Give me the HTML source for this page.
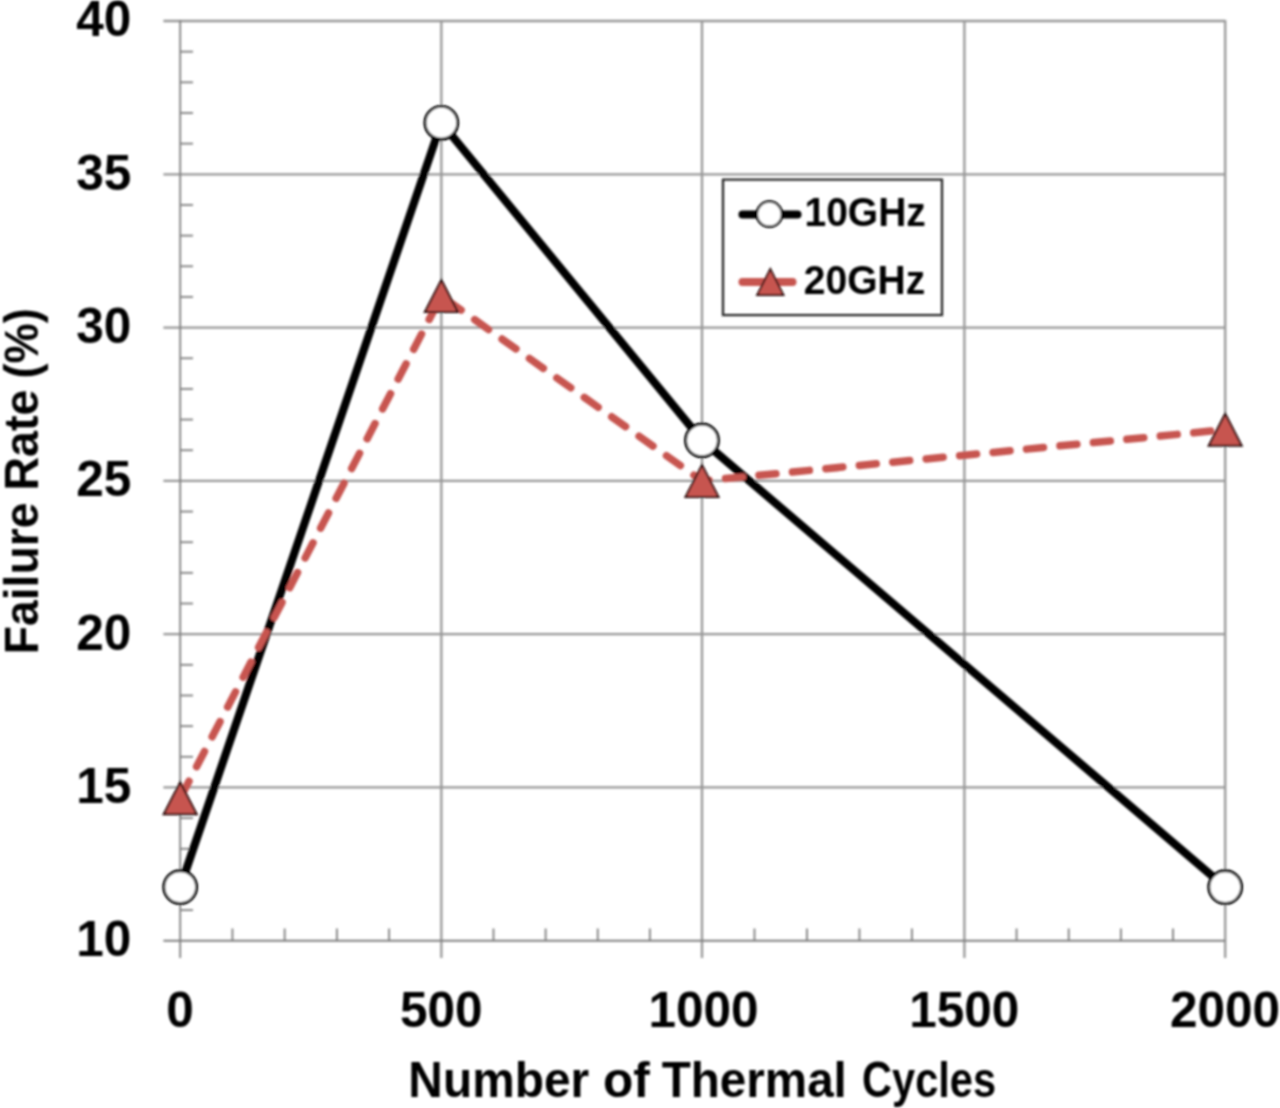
<!DOCTYPE html><html><head><meta charset="utf-8"><style>html,body{margin:0;padding:0;background:#fff;}svg{display:block;}text{font-family:"Liberation Sans",sans-serif;font-weight:bold;fill:#000;}</style></head><body>
<svg width="1280" height="1108" viewBox="0 0 1280 1108">
<defs><filter id="bl" x="0" y="0" width="1280" height="1108" filterUnits="userSpaceOnUse"><feGaussianBlur stdDeviation="0.85"/></filter></defs>
<rect width="1280" height="1108" fill="#fff"/>
<g filter="url(#bl)">
<line x1="163.4" y1="787.46" x2="1225.3" y2="787.46" stroke="#979797" stroke-width="2.3"/>
<line x1="163.4" y1="634.17" x2="1225.3" y2="634.17" stroke="#979797" stroke-width="2.3"/>
<line x1="163.4" y1="480.88" x2="1225.3" y2="480.88" stroke="#979797" stroke-width="2.3"/>
<line x1="163.4" y1="327.59" x2="1225.3" y2="327.59" stroke="#979797" stroke-width="2.3"/>
<line x1="163.4" y1="174.30" x2="1225.3" y2="174.30" stroke="#979797" stroke-width="2.3"/>
<line x1="163.4" y1="21.01" x2="1225.3" y2="21.01" stroke="#979797" stroke-width="2.3"/>
<line x1="441.35" y1="20.01" x2="441.35" y2="958" stroke="#979797" stroke-width="2.3"/>
<line x1="702.00" y1="20.01" x2="702.00" y2="958" stroke="#979797" stroke-width="2.3"/>
<line x1="964.40" y1="20.01" x2="964.40" y2="958" stroke="#979797" stroke-width="2.3"/>
<line x1="1225.20" y1="20.01" x2="1225.20" y2="958" stroke="#979797" stroke-width="2.3"/>
<line x1="180.20" y1="910.09" x2="193" y2="910.09" stroke="#7e7e7e" stroke-width="1.8"/>
<line x1="180.20" y1="879.43" x2="193" y2="879.43" stroke="#7e7e7e" stroke-width="1.8"/>
<line x1="180.20" y1="848.78" x2="193" y2="848.78" stroke="#7e7e7e" stroke-width="1.8"/>
<line x1="180.20" y1="818.12" x2="193" y2="818.12" stroke="#7e7e7e" stroke-width="1.8"/>
<line x1="180.20" y1="756.80" x2="193" y2="756.80" stroke="#7e7e7e" stroke-width="1.8"/>
<line x1="180.20" y1="726.14" x2="193" y2="726.14" stroke="#7e7e7e" stroke-width="1.8"/>
<line x1="180.20" y1="695.49" x2="193" y2="695.49" stroke="#7e7e7e" stroke-width="1.8"/>
<line x1="180.20" y1="664.83" x2="193" y2="664.83" stroke="#7e7e7e" stroke-width="1.8"/>
<line x1="180.20" y1="603.51" x2="193" y2="603.51" stroke="#7e7e7e" stroke-width="1.8"/>
<line x1="180.20" y1="572.85" x2="193" y2="572.85" stroke="#7e7e7e" stroke-width="1.8"/>
<line x1="180.20" y1="542.20" x2="193" y2="542.20" stroke="#7e7e7e" stroke-width="1.8"/>
<line x1="180.20" y1="511.54" x2="193" y2="511.54" stroke="#7e7e7e" stroke-width="1.8"/>
<line x1="180.20" y1="450.22" x2="193" y2="450.22" stroke="#7e7e7e" stroke-width="1.8"/>
<line x1="180.20" y1="419.56" x2="193" y2="419.56" stroke="#7e7e7e" stroke-width="1.8"/>
<line x1="180.20" y1="388.91" x2="193" y2="388.91" stroke="#7e7e7e" stroke-width="1.8"/>
<line x1="180.20" y1="358.25" x2="193" y2="358.25" stroke="#7e7e7e" stroke-width="1.8"/>
<line x1="180.20" y1="296.93" x2="193" y2="296.93" stroke="#7e7e7e" stroke-width="1.8"/>
<line x1="180.20" y1="266.27" x2="193" y2="266.27" stroke="#7e7e7e" stroke-width="1.8"/>
<line x1="180.20" y1="235.62" x2="193" y2="235.62" stroke="#7e7e7e" stroke-width="1.8"/>
<line x1="180.20" y1="204.96" x2="193" y2="204.96" stroke="#7e7e7e" stroke-width="1.8"/>
<line x1="180.20" y1="143.64" x2="193" y2="143.64" stroke="#7e7e7e" stroke-width="1.8"/>
<line x1="180.20" y1="112.98" x2="193" y2="112.98" stroke="#7e7e7e" stroke-width="1.8"/>
<line x1="180.20" y1="82.33" x2="193" y2="82.33" stroke="#7e7e7e" stroke-width="1.8"/>
<line x1="180.20" y1="51.67" x2="193" y2="51.67" stroke="#7e7e7e" stroke-width="1.8"/>
<line x1="232.43" y1="940.75" x2="232.43" y2="928.5" stroke="#7e7e7e" stroke-width="1.8"/>
<line x1="284.66" y1="940.75" x2="284.66" y2="928.5" stroke="#7e7e7e" stroke-width="1.8"/>
<line x1="336.89" y1="940.75" x2="336.89" y2="928.5" stroke="#7e7e7e" stroke-width="1.8"/>
<line x1="389.12" y1="940.75" x2="389.12" y2="928.5" stroke="#7e7e7e" stroke-width="1.8"/>
<line x1="493.48" y1="940.75" x2="493.48" y2="928.5" stroke="#7e7e7e" stroke-width="1.8"/>
<line x1="545.61" y1="940.75" x2="545.61" y2="928.5" stroke="#7e7e7e" stroke-width="1.8"/>
<line x1="597.74" y1="940.75" x2="597.74" y2="928.5" stroke="#7e7e7e" stroke-width="1.8"/>
<line x1="649.87" y1="940.75" x2="649.87" y2="928.5" stroke="#7e7e7e" stroke-width="1.8"/>
<line x1="754.48" y1="940.75" x2="754.48" y2="928.5" stroke="#7e7e7e" stroke-width="1.8"/>
<line x1="806.96" y1="940.75" x2="806.96" y2="928.5" stroke="#7e7e7e" stroke-width="1.8"/>
<line x1="859.44" y1="940.75" x2="859.44" y2="928.5" stroke="#7e7e7e" stroke-width="1.8"/>
<line x1="911.92" y1="940.75" x2="911.92" y2="928.5" stroke="#7e7e7e" stroke-width="1.8"/>
<line x1="1016.56" y1="940.75" x2="1016.56" y2="928.5" stroke="#7e7e7e" stroke-width="1.8"/>
<line x1="1068.72" y1="940.75" x2="1068.72" y2="928.5" stroke="#7e7e7e" stroke-width="1.8"/>
<line x1="1120.88" y1="940.75" x2="1120.88" y2="928.5" stroke="#7e7e7e" stroke-width="1.8"/>
<line x1="1173.04" y1="940.75" x2="1173.04" y2="928.5" stroke="#7e7e7e" stroke-width="1.8"/>
<line x1="163.4" y1="940.75" x2="1225.3" y2="940.75" stroke="#7e7e7e" stroke-width="1.8"/>
<line x1="180.20" y1="20.01" x2="180.20" y2="958" stroke="#7e7e7e" stroke-width="1.8"/>
<polyline points="180.20,887.10 441.35,122.79 702.00,440.41 1225.20,887.10" fill="none" stroke="#000" stroke-width="8.1" stroke-linejoin="round" stroke-linecap="round"/>
<circle cx="180.20" cy="887.10" r="16.4" fill="#fff" stroke="#000" stroke-width="2.9"/>
<circle cx="441.35" cy="122.79" r="16.4" fill="#fff" stroke="#000" stroke-width="2.9"/>
<circle cx="702.00" cy="440.41" r="16.4" fill="#fff" stroke="#000" stroke-width="2.9"/>
<circle cx="1225.20" cy="887.10" r="16.4" fill="#fff" stroke="#000" stroke-width="2.9"/>
<polyline points="180.20,798.19 441.35,296.01 702.00,480.88 1225.20,429.68" fill="none" stroke="#c75450" stroke-width="7.5" stroke-linejoin="round" stroke-linecap="round" stroke-dasharray="17.0 16.6" stroke-dashoffset="-2.05"/>
<polygon points="180.20,782.19 196.70,814.19 163.70,814.19" fill="#c75450" stroke="#2a0c0b" stroke-width="2" stroke-linejoin="miter"/>
<polygon points="441.35,280.01 457.85,312.01 424.85,312.01" fill="#c75450" stroke="#2a0c0b" stroke-width="2" stroke-linejoin="miter"/>
<polygon points="702.00,464.88 718.50,496.88 685.50,496.88" fill="#c75450" stroke="#2a0c0b" stroke-width="2" stroke-linejoin="miter"/>
<polygon points="1225.20,413.68 1241.70,445.68 1208.70,445.68" fill="#c75450" stroke="#2a0c0b" stroke-width="2" stroke-linejoin="miter"/>
<text x="131.3" y="956.15" font-size="49.5" text-anchor="end">10</text>
<text x="131.3" y="802.86" font-size="49.5" text-anchor="end">15</text>
<text x="131.3" y="649.57" font-size="49.5" text-anchor="end">20</text>
<text x="131.3" y="496.28" font-size="49.5" text-anchor="end">25</text>
<text x="131.3" y="342.99" font-size="49.5" text-anchor="end">30</text>
<text x="131.3" y="189.70" font-size="49.5" text-anchor="end">35</text>
<text x="131.3" y="36.41" font-size="49.5" text-anchor="end">40</text>
<text x="180.10" y="1026.8" font-size="49.5" text-anchor="middle">0</text>
<text x="441.25" y="1026.8" font-size="49.5" text-anchor="middle">500</text>
<text x="703.60" y="1026.8" font-size="49.5" text-anchor="middle">1000</text>
<text x="964.25" y="1026.8" font-size="49.5" text-anchor="middle">1500</text>
<text x="1225.00" y="1026.8" font-size="49.5" text-anchor="middle">2000</text>
<text transform="translate(408.36,1096.6) scale(0.9647,1)" font-size="49.6">Number</text>
<text transform="translate(603.00,1096.6) scale(1.0000,1)" font-size="49.6">of</text>
<text transform="translate(661.74,1096.6) scale(0.9593,1)" font-size="49.6">Thermal</text>
<text transform="translate(862.02,1096.6) scale(0.8385,1)" font-size="49.6">Cycles</text>
<text transform="translate(37.9,654.25) rotate(-90) scale(0.9484,1)" font-size="48.8">Failure</text>
<text transform="translate(37.9,490.57) rotate(-90) scale(0.9554,1)" font-size="48.8">Rate</text>
<text transform="translate(37.9,378.56) rotate(-90) scale(0.9278,1)" font-size="48.8">(%)</text>
<rect x="723" y="179.6" width="219" height="135.5" fill="none" stroke="#222" stroke-width="2.2"/>
<line x1="742.5" y1="214.4" x2="797.5" y2="214.4" stroke="#000" stroke-width="8" stroke-linecap="round"/>
<circle cx="769.4" cy="214.2" r="12.6" fill="#fff" stroke="#000" stroke-width="2.5"/>
<line x1="742.5" y1="281.9" x2="792.5" y2="281.9" stroke="#c75450" stroke-width="8" stroke-linecap="round"/>
<polygon points="770.30,269.00 783.55,295.00 757.05,295.00" fill="#c75450" stroke="#2a0c0b" stroke-width="1.8"/>
<text transform="translate(804.5,225.5) scale(0.963,1)" font-size="40.5">10GHz</text>
<text transform="translate(803.8,293.8) scale(0.963,1)" font-size="40.5">20GHz</text>
</g></svg></body></html>
